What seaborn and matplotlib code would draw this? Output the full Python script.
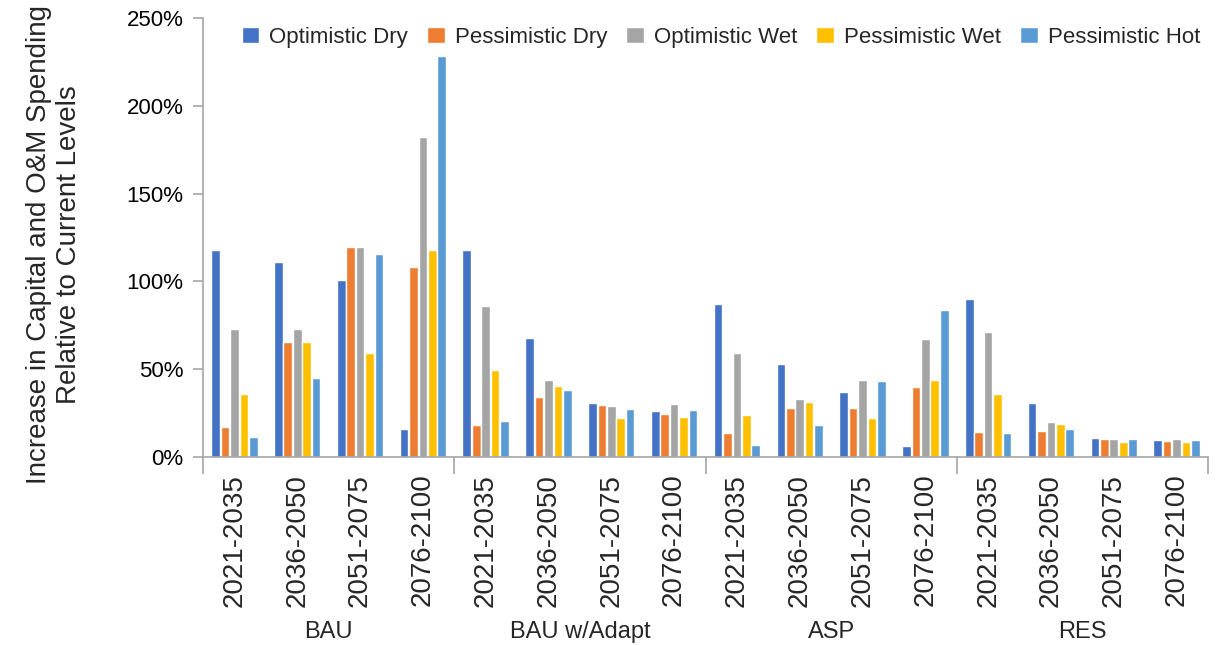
import matplotlib
matplotlib.use("Agg")
import matplotlib.pyplot as plt
import matplotlib.transforms as mtransforms
from matplotlib.ticker import PercentFormatter
from matplotlib.patches import Patch
import seaborn as sns
import pandas as pd
import numpy as np

sns.set_style("white")
plt.rcParams['font.family'] = ['Liberation Sans', 'DejaVu Sans']

# data (percent increase)
groups = ['BAU', 'BAU w/Adapt', 'ASP', 'RES']
periods = ['2021-2035', '2036-2050', '2051-2075', '2076-2100']
scenarios = ['Optimistic Dry', 'Pessimistic Dry', 'Optimistic Wet', 'Pessimistic Wet', 'Pessimistic Hot']
colors = ['#4472C4', '#ED7D31', '#A5A5A5', '#FFC000', '#5B9BD5']

opt_dry = [118, 111, 101, 16,   118, 68, 31, 26,   87, 53, 37, 6,   90, 31, 11, 9.5]
pes_dry = [17, 65.5, 119.5, 108,   18, 34, 29.5, 24.5,   13.5, 28, 28, 40,   14, 15, 10.5, 9]
opt_wet = [72.7, 72.7, 119.5, 182,   86, 44, 29, 30,   59, 33, 44, 67,   71, 20, 10.5, 10.5]
pes_wet = [36, 65.5, 59, 118,   49.5, 40.5, 22, 23,   24, 31.5, 22, 44,   36, 19, 8.5, 8.5]
pes_hot = [11.5, 45, 115.5, 228.5,   20.5, 38, 27.5, 27,   7, 18, 43, 84,   13.5, 16, 10, 9.5]

series = [opt_dry, pes_dry, opt_wet, pes_wet, pes_hot]
cats = [g + '|' + p for g in groups for p in periods]
rows = []
for name, vals in zip(scenarios, series):
    for c, v in zip(cats, vals):
        rows.append({'cat': c, 'scenario': name, 'value': v / 100.0})
df = pd.DataFrame(rows)

fig = plt.figure(figsize=(12.32, 6.45), dpi=100)
ax = fig.add_axes([0.1648, 0.2915, 0.8157, 0.6805])

sns.barplot(data=df, x='cat', y='value', hue='scenario', order=cats,
            hue_order=scenarios, palette=colors, width=0.75, gap=0.08,
            saturation=1, ax=ax, legend=False)

ax.set_ylim(0, 2.5)
ax.set_xlim(-0.5, len(cats) - 0.5)
ax.set_yticks(np.arange(0, 2.51, 0.5))
ax.yaxis.set_major_formatter(PercentFormatter(1.0, decimals=0))
ax.tick_params(axis='y', labelsize=16, left=True, length=7, width=1.2,
               color='#A6A6A6', labelcolor='black', pad=7)

ax.set_xticks(range(len(cats)))
ax.set_xticklabels(periods * len(groups), rotation=90, fontsize=20)
ax.tick_params(axis='x', length=0, pad=12)
ax.set_xticks([-0.5, 3.5, 7.5, 11.5, 15.5], minor=True)
ax.tick_params(axis='x', which='minor', length=12, width=1.2, color='#A6A6A6',
               bottom=True)
ax.set_xlabel('')

for side in ['top', 'right']:
    ax.spines[side].set_visible(False)
for side in ['left', 'bottom']:
    ax.spines[side].set_color('#A6A6A6')
    ax.spines[side].set_linewidth(1.2)

trans = mtransforms.blended_transform_factory(ax.transData, ax.transAxes)
for i, g in enumerate(groups):
    ax.text(i * 4 + 1.5, -0.399, g, transform=trans, ha='center', va='center',
            fontsize=17)

ax.set_ylabel('Increase in Capital and O&M Spending\nRelative to Current Levels',
              fontsize=20, linespacing=1.2)
ax.yaxis.set_label_coords(-0.12, 0.483)

handles = [Patch(facecolor=c, label=s) for c, s in zip(colors, scenarios)]
ax.legend(handles=handles, loc='upper right', bbox_to_anchor=(1.012, 1.025),
          ncol=5, frameon=False, fontsize=16, handlelength=0.8,
          handleheight=0.75, handletextpad=0.45, columnspacing=0.85)

fig.savefig('out.png', dpi=100)
